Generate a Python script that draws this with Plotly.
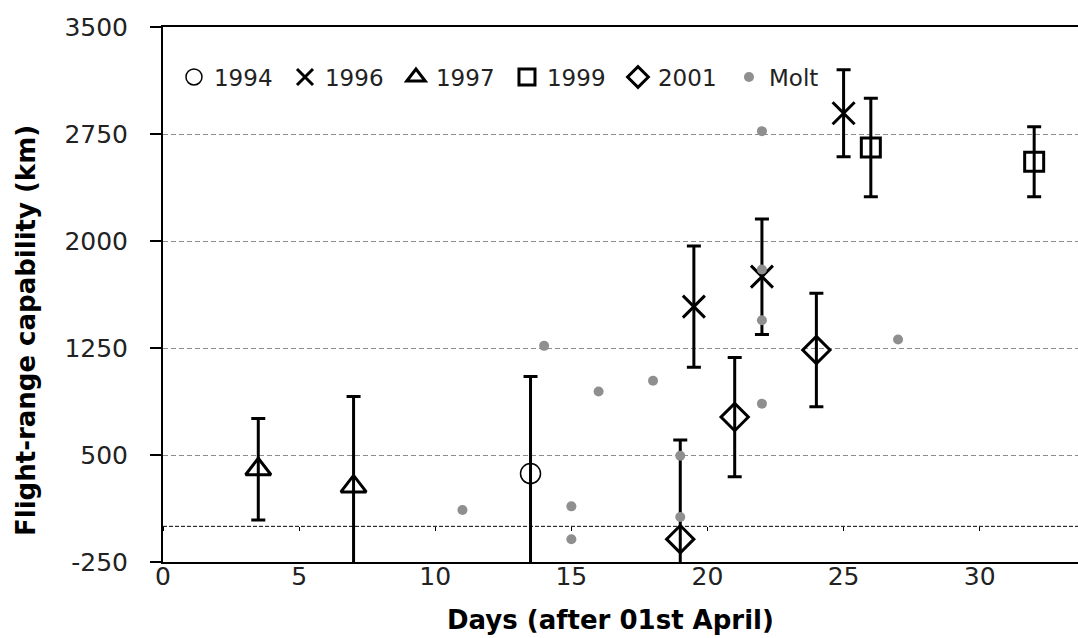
import plotly.graph_objects as go

# ---- data ----
x1994 = [13.5]
y1994 = [370]
e1994 = [680]

x1996 = [19.5, 22, 25]
y1996 = [1540, 1750, 2895]
e1996 = [425, 405, 305]

x1997 = [3.5, 7]
y1997 = [400, 280]
e1997 = [355, 630]

x1999 = [26, 32]
y1999 = [2655, 2556]
e1999 = [345, 245]

x2001 = [19, 21, 24]
y2001 = [-90, 766, 1236]
e2001 = [695, 418, 398]

xmolt = [11, 14, 15, 15, 16, 18, 19, 19, 22, 22, 22, 22, 27]
ymolt = [115, 1265, 140, -90, 945, 1020, 495, 65, 2770, 1800, 1445, 860, 1310]

x_ticks = [0, 5, 10, 15, 20, 25, 30]
y_ticks = [-250, 500, 1250, 2000, 2750, 3500]
y_tick_labels = ["-250", "500", "1250", "2000", "2750", "3500"]

FONT = "DejaVu Sans"
ERR = dict(type="data", symmetric=True, color="black", thickness=3, width=7)

fig = go.Figure()

def add_series(name, xs, ys, es, symbol, size, lw=3):
    fig.add_trace(go.Scatter(
        x=xs, y=ys, name=name, mode="markers",
        marker=dict(symbol=symbol, size=size, color="black",
                    line=dict(color="black", width=lw)),
        error_y=dict(array=es, **ERR),
    ))

add_series("1994", x1994, y1994, e1994, "circle-open", 20, 1.5)
add_series("1996", x1996, y1996, e1996, "x-thin-open", 22, 3)
add_series("1997", x1997, y1997, e1997, "triangle-up-open", 22, 3)
add_series("1999", x1999, y1999, e1999, "square-open", 19, 3)
add_series("2001", x2001, y2001, e2001, "diamond-open", 21, 3)

fig.add_trace(go.Scatter(
    x=xmolt, y=ymolt, name="Molt", mode="markers", xaxis="x2",
    marker=dict(symbol="circle", size=10, color="#8f8f8f"),
))

# y = 0 reference line (dashed)
fig.add_shape(type="line", xref="paper", yref="y", x0=0, x1=1, y0=0, y1=0,
              line=dict(color="black", width=1, dash="4px,2px"), layer="below")

XR = [0, 33.61]
fig.update_layout(
    width=1078, height=638,
    margin=dict(l=163, r=0, t=27, b=76),
    paper_bgcolor="white", plot_bgcolor="white",
    font=dict(family=FONT, size=25, color="#222222"),
    showlegend=True,
    legend=dict(orientation="h", x=0.012, y=0.9065, xanchor="left", yanchor="middle",
                font=dict(family=FONT, size=23, color="#222222"),
                bgcolor="rgba(0,0,0,0)", entrywidth=66, entrywidthmode="pixels",
                itemclick=False),
    xaxis=dict(range=XR, tickvals=x_ticks, showgrid=False, zeroline=False,
               showline=True, linecolor="black", linewidth=2, mirror=True,
               ticks="", ticklabelstandoff=-9,
               tickfont=dict(family=FONT, size=25, color="#222222")),
    xaxis2=dict(range=XR, overlaying="x", matches="x", anchor="free", position=250/3750,
                side="bottom", showline=False, showgrid=False, zeroline=False,
                tickvals=x_ticks, ticks="outside", ticklen=4, tickwidth=1,
                tickcolor="black", showticklabels=False),
    yaxis=dict(range=[-250, 3500], tickvals=y_ticks, ticktext=y_tick_labels, showgrid=True,
               gridcolor="#8c8c8c", gridwidth=1, griddash="5px,3px", zeroline=False,
               showline=True, linecolor="black", linewidth=2,
               ticks="outside", ticklen=11, tickwidth=1.5, tickcolor="black",
               ticklabelstandoff=17,
               tickfont=dict(family=FONT, size=25, color="#222222")),
    annotations=[
        dict(text="<b>Flight-range capability (km)</b>", textangle=-90,
             xref="paper", yref="paper", x=(26 - 163) / 915, y=(562 - 331) / 535,
             xanchor="center", yanchor="middle", showarrow=False,
             font=dict(family=FONT, size=26, color="black")),
        dict(text="<b>Days (after 01st April)</b>",
             xref="paper", yref="paper", x=(610 - 163) / 915, y=(562 - 620) / 535,
             xanchor="center", yanchor="middle", showarrow=False,
             font=dict(family=FONT, size=26, color="black")),
    ],
)

fig.write_html("out.html")
